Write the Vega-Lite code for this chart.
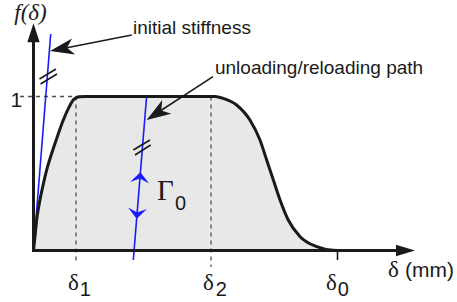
{
  "$schema": "https://vega.github.io/schema/vega-lite/v6.json",
  "width": 457,
  "height": 302,
  "padding": 0,
  "autosize": {"type": "fit", "contains": "padding"},
  "background": "white",
  "config": {"view": {"stroke": null}},
  "datasets": {
    "curve": [
      {"x": 0, "y": 0},
      {"x": 0.0049, "y": 0.0896},
      {"x": 0.0105, "y": 0.198},
      {"x": 0.0191, "y": 0.306},
      {"x": 0.0303, "y": 0.414},
      {"x": 0.0434, "y": 0.523},
      {"x": 0.0599, "y": 0.631},
      {"x": 0.0783, "y": 0.739},
      {"x": 0.098, "y": 0.847},
      {"x": 0.1178, "y": 0.934},
      {"x": 0.132, "y": 0.98},
      {"x": 0.15, "y": 0.999},
      {"x": 0.17, "y": 1.0},
      {"x": 0.597, "y": 1.0},
      {"x": 0.624, "y": 0.988},
      {"x": 0.668, "y": 0.945},
      {"x": 0.712, "y": 0.847},
      {"x": 0.745, "y": 0.717},
      {"x": 0.767, "y": 0.588},
      {"x": 0.789, "y": 0.458},
      {"x": 0.811, "y": 0.328},
      {"x": 0.838, "y": 0.198},
      {"x": 0.877, "y": 0.0896},
      {"x": 0.932, "y": 0.0247},
      {"x": 0.985, "y": 0.001},
      {"x": 1, "y": 0}
    ],
    "guides": [
      {"x": -0.0444, "y": 1, "x2": 0.2089, "y2": 1},
      {"x": 0.1398, "y": 1, "x2": 0.1398, "y2": -0.0812},
      {"x": 0.5839, "y": 1, "x2": 0.5839, "y2": -0.107}
    ],
    "stiffness": [
      {"x": 0, "y": 0, "x2": 0.0566, "y2": 1.4058},
      {"x": 0.3724, "y": 1.0097, "x2": 0.3283, "y2": -0.0617}
    ],
    "axes": [
      {"x": 0, "y": 0, "x2": 0, "y2": 1.37},
      {"x": 0, "y": 0, "x2": 1.2, "y2": 0}
    ],
    "strokes": [
      {"x": 1, "y": 0, "x2": 1, "y2": -0.0617},
      {"x": 0.0197, "y": 1.1136, "x2": 0.074, "y2": 1.1786},
      {"x": 0.023, "y": 1.0812, "x2": 0.0773, "y2": 1.1461},
      {"x": 0.3283, "y": 0.6526, "x2": 0.3832, "y2": 0.7175},
      {"x": 0.3339, "y": 0.6201, "x2": 0.3855, "y2": 0.6851},
      {"x": 0.323, "y": 1.3994, "x2": 0.0806, "y2": 1.305},
      {"x": 0.5905, "y": 1.1286, "x2": 0.3964, "y2": 0.8799}
    ],
    "annotations": [
      {"x": 0.3273, "y": 1.4084, "label": "initial stiffness"},
      {"x": 0.597, "y": 1.144, "label": "unloading/reloading path"}
    ],
    "subscripts": [
      {"x": 0.1525, "y": -0.2955, "label": "1"},
      {"x": 0.5999, "y": -0.2955, "label": "2"},
      {"x": 1.0012, "y": -0.2955, "label": "0"},
      {"x": 0.4655, "y": 0.263, "label": "0"}
    ],
    "sansLabels": [
      {"x": 1.222, "y": -0.1721, "label": "(mm)"},
      {"x": -0.0757, "y": 0.9338, "label": "1"}
    ],
    "deltas": [
      {"x": 0.1135, "y": -0.2565, "label": "δ"},
      {"x": 0.5576, "y": -0.2565, "label": "δ"},
      {"x": 0.9622, "y": -0.2565, "label": "δ"},
      {"x": 1.1661, "y": -0.1721, "label": "δ"}
    ]
  },
  "encoding": {
    "x": {"field": "x", "type": "quantitative", "scale": {"domain": [-0.1102, 1.3931], "nice": false, "zero": false}, "axis": null},
    "y": {"field": "y", "type": "quantitative", "scale": {"domain": [-0.3344, 1.6266], "nice": false, "zero": false}, "axis": null}
  },
  "layer": [
    {
      "data": {"name": "curve"},
      "mark": {"type": "area", "interpolate": "monotone", "color": "#e8e8e8"},
      "encoding": {"y2": {"datum": 0}}
    },
    {
      "data": {"name": "guides"},
      "mark": {"type": "rule", "strokeDash": [4, 4], "color": "#4d4d4d", "strokeWidth": 1.3},
      "encoding": {"x2": {"field": "x2"}, "y2": {"field": "y2"}}
    },
    {
      "data": {"name": "stiffness"},
      "mark": {"type": "rule", "color": "#1a1aff", "strokeWidth": 1.6},
      "encoding": {"x2": {"field": "x2"}, "y2": {"field": "y2"}}
    },
    {
      "data": {"name": "curve"},
      "mark": {"type": "line", "interpolate": "monotone", "color": "#1a1a1a", "strokeWidth": 3},
      "encoding": {}
    },
    {
      "data": {"name": "axes"},
      "mark": {"type": "rule", "color": "#1a1a1a", "strokeWidth": 3, "strokeCap": "square"},
      "encoding": {"x2": {"field": "x2"}, "y2": {"field": "y2"}}
    },
    {
      "data": {"name": "strokes"},
      "mark": {"type": "rule", "color": "#1a1a1a", "strokeWidth": 1.6},
      "encoding": {"x2": {"field": "x2"}, "y2": {"field": "y2"}}
    },
    {
      "data": {"values": [{"x": 0, "y": 1.4136}]},
      "mark": {"type": "point", "shape": "M0,-1L0.65,1L-0.65,1Z", "size": 361, "filled": true, "color": "#1a1a1a", "opacity": 1},
      "encoding": {}
    },
    {
      "data": {"values": [{"x": 1.2237, "y": 0}]},
      "mark": {"type": "point", "shape": "M1,0L-1,-0.6L-1,0.6Z", "size": 361, "filled": true, "color": "#1a1a1a", "opacity": 1},
      "encoding": {}
    },
    {
      "data": {"values": [{"x": 0.093, "y": 1.3104}]},
      "mark": {"type": "point", "shape": "M1,0L-1,-0.68L-0.45,0L-1,0.68Z", "size": 576, "filled": true, "color": "#1a1a1a", "opacity": 1, "angle": 168.9},
      "encoding": {}
    },
    {
      "data": {"values": [{"x": 0.4053, "y": 0.8903}]},
      "mark": {"type": "point", "shape": "M1,0L-1,-0.68L-0.45,0L-1,0.68Z", "size": 576, "filled": true, "color": "#1a1a1a", "opacity": 1, "angle": 146.85},
      "encoding": {}
    },
    {
      "data": {"values": [{"x": 0.3502, "y": 0.4708}]},
      "mark": {"type": "point", "shape": "M0,-0.6L1,0.5L0,0.05L-1,0.5Z", "size": 361, "filled": true, "color": "#1a1aff", "opacity": 1, "angle": 4.6},
      "encoding": {}
    },
    {
      "data": {"values": [{"x": 0.3408, "y": 0.2435}]},
      "mark": {"type": "point", "shape": "M0,-0.6L1,0.5L0,0.05L-1,0.5Z", "size": 361, "filled": true, "color": "#1a1aff", "opacity": 1, "angle": 184.6},
      "encoding": {}
    },
    {
      "data": {"name": "annotations"},
      "mark": {"type": "text", "font": "Liberation Sans", "fontSize": 19, "align": "left", "baseline": "alphabetic", "color": "#1a1a1a"},
      "encoding": {"text": {"field": "label"}}
    },
    {
      "data": {"name": "subscripts"},
      "mark": {"type": "text", "font": "Liberation Sans", "fontSize": 20, "align": "left", "baseline": "alphabetic", "color": "#1a1a1a"},
      "encoding": {"text": {"field": "label"}}
    },
    {
      "data": {"name": "sansLabels"},
      "mark": {"type": "text", "font": "Liberation Sans", "fontSize": 21, "align": "left", "baseline": "alphabetic", "color": "#1a1a1a"},
      "encoding": {"text": {"field": "label"}}
    },
    {
      "data": {"name": "deltas"},
      "mark": {"type": "text", "font": "Liberation Serif", "fontSize": 23, "align": "left", "baseline": "alphabetic", "color": "#1a1a1a"},
      "encoding": {"text": {"field": "label"}}
    },
    {
      "data": {"values": [{"x": 0.4062, "y": 0.3279, "label": "Γ"}]},
      "mark": {"type": "text", "font": "Liberation Serif", "fontSize": 29, "align": "left", "baseline": "alphabetic", "color": "#1a1a1a"},
      "encoding": {"text": {"field": "label"}}
    },
    {
      "data": {"values": [{"x": -0.0099, "y": 1.4935, "label": "f(δ)"}]},
      "mark": {"type": "text", "font": "Liberation Serif", "fontStyle": "italic", "fontSize": 23, "align": "center", "baseline": "alphabetic", "color": "#1a1a1a"},
      "encoding": {"text": {"field": "label"}}
    }
  ]
}
